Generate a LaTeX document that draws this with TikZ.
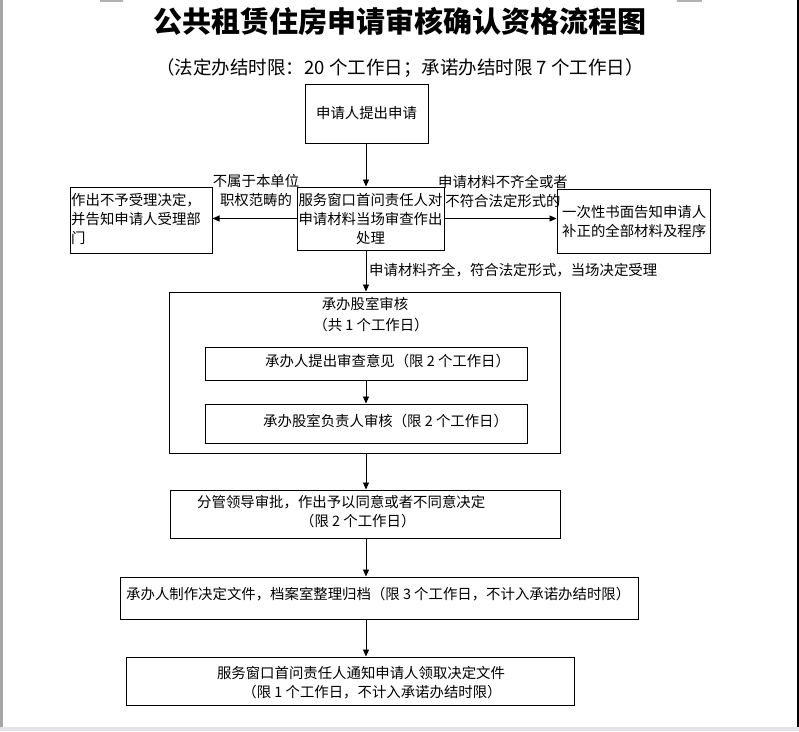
\documentclass[tikz,border=0pt]{standalone}
\usepackage{fontspec}
\setmainfont{Noto Sans CJK SC}
\usetikzlibrary{arrows.meta}
\tikzset{
  box/.style={draw, line width=1pt, inner sep=0pt},
  txt/.style={inner sep=0pt, font=\fontsize{14.4}{19}\selectfont},
  arr/.style={line width=0.9pt, -{Triangle[length=7pt,width=6pt]}},
}
\begin{document}
\begin{tikzpicture}[x=1pt,y=-1pt]
\useasboundingbox (0,0) rectangle (799,731);
\fill[white] (0,0) rectangle (799,731);
% page frame marks
\fill[gray!70] (0,0) rectangle (3,727);
\fill[black] (797,0) rectangle (799,727);
\fill[blue!10!gray!20] (0,727) rectangle (799,731);
\fill[gray!60] (100,0) rectangle (123,1.5);
\fill[gray!60] (677,0) rectangle (702,1.5);

% title
\node[inner sep=0pt, font=\bfseries\fontsize{29}{31}\selectfont] (title) at (400,21) {公共租赁住房申请审核确认资格流程图};
\node[inner sep=0pt, font=\fontsize{18.5}{20}\selectfont] (sub) at (400,68) {（法定办结时限：20 个工作日；承诺办结时限 7 个工作日）};

\coordinate (col) at (366,0);

% boxes
\node[box, minimum width=123pt, minimum height=59pt, txt] (apply) at (366.5,113.5) {申请人提出申请};
\node[box, minimum width=147pt, minimum height=63pt, txt, align=center] (window) at (370.5,218.5) {服务窗口首问责任人对\\申请材料当场审查作出\\处理};
\node[box, minimum width=142pt, minimum height=66pt] (reject) at (141,220) {};
\node[txt, anchor=north west, align=left] (rejectt) at (71,193) {作出不予受理决定，\\并告知申请人受理部\\门};
\node[box, minimum width=153pt, minimum height=64pt] (notify) at (633.5,221) {};
\node[txt, anchor=west, align=left] (notifyt) at (562,222) {一次性书面告知申请人\\补正的全部材料及程序};

\node[box, minimum width=391pt, minimum height=161pt] (outer) at (364.5,372.5) {};
\node[txt] (outert1) at (365,304) {承办股室审核};
\node[txt] (outert2) at (371,325) {（共 1 个工作日）};
\node[box, minimum width=322pt, minimum height=33pt] (in1) at (366,363.5) {};
\node[txt, anchor=west] (in1t) at (265,361) {承办人提出审查意见（限 2 个工作日）};
\node[box, minimum width=322pt, minimum height=39pt] (in2) at (366,423.5) {};
\node[txt, anchor=west] (in2t) at (263,421) {承办股室负责人审核（限 2 个工作日）};

\node[box, minimum width=390pt, minimum height=48pt] (lead) at (365,514) {};
\node[txt, anchor=west] (leadt1) at (197,502) {分管领导审批，作出予以同意或者不同意决定};
\node[txt, anchor=west] (leadt2) at (300,521) {（限 2 个工作日）};

\node[box, minimum width=518pt, minimum height=42pt] (make) at (379,598) {};
\node[txt, anchor=west] (maket) at (126,594) {承办人制作决定文件，档案室整理归档（限 3 个工作日，不计入承诺办结时限）};

\node[box, minimum width=448pt, minimum height=48pt] (final) at (350,681) {};
\node[txt] (finalt1) at (361,673) {服务窗口首问责任人通知申请人领取决定文件};
\node[txt] (finalt2) at (372,692) {（限 1 个工作日，不计入承诺办结时限）};

% connectors
\draw[arr] (apply.south -| col) -- (window.north -| col);
\draw[arr] (window.west) -- (reject.east |- window.west);
\draw[arr] (window.east) -- (notify.west |- window.east);
\draw[arr] (window.south -| col) -- (outer.north -| col);
\draw[arr] (in1.south -| col) -- (in2.north -| col);
\draw[arr] (outer.south -| col) -- (lead.north -| col);
\draw[arr] (lead.south -| col) -- (make.north -| col);
\draw[arr] (make.south -| col) -- (final.north -| col);

% connector labels
\node[txt, align=center] (lblL) at (256,191) {不属于本单位\\职权范畴的};
\node[txt, align=center] (lblR) at (503,191) {申请材料不齐全或者\\不符合法定形式的};
\node[txt, anchor=west] (lblD) at (369,270) {申请材料齐全，符合法定形式，当场决定受理};
\end{tikzpicture}
\end{document}
